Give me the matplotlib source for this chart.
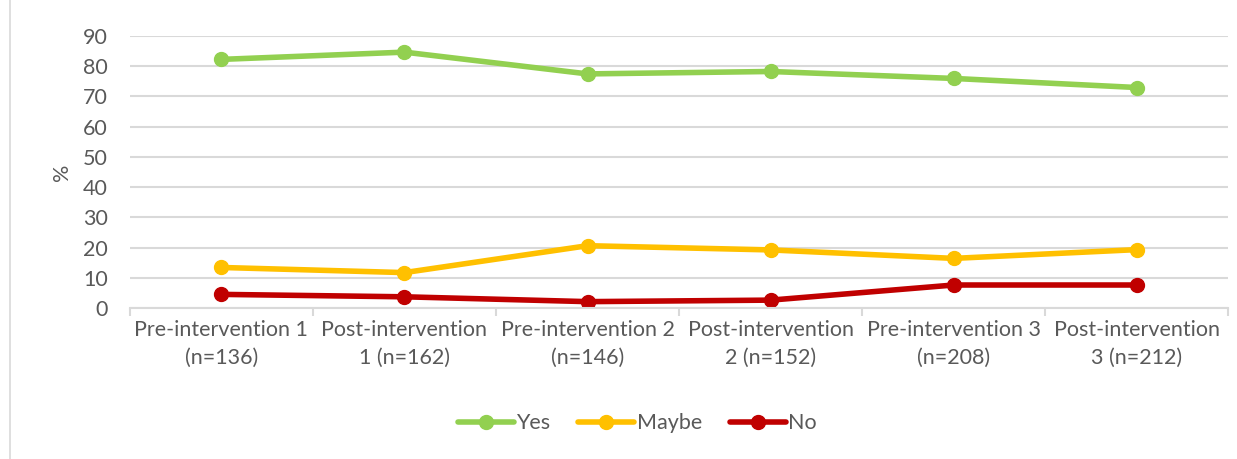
import numpy as np
import matplotlib.pyplot as plt
from matplotlib.patches import Rectangle

plt.rcParams['font.family'] = ['Lato', 'DejaVu Sans']

categories = ['Pre-intervention 1\n(n=136)', 'Post-intervention\n1 (n=162)',
              'Pre-intervention 2\n(n=146)', 'Post-intervention\n2 (n=152)',
              'Pre-intervention 3\n(n=208)', 'Post-intervention\n3 (n=212)']
yes = [82.2, 84.6, 77.4, 78.2, 75.9, 72.9]
maybe = [13.4, 11.7, 20.6, 19.2, 16.4, 19.3]
no = [4.5, 3.7, 2.1, 2.6, 7.6, 7.6]

series = [('Yes', yes, '#92d050'), ('Maybe', maybe, '#ffc000'), ('No', no, '#c00000')]
txt = '#595959'
grid = '#d9d9d9'
fs = 15.5

fig = plt.figure(figsize=(12.37, 4.59), dpi=100)
fig.patches.append(Rectangle((0.008, -0.01), 1.0, 1.02, transform=fig.transFigure,
                             fill=False, edgecolor=grid, lw=1.2))
ax = fig.add_axes([0.105, 0.329, 0.888, 0.593])

x = np.arange(len(categories))
for name, vals, col in series:
    ax.plot(x, vals, color=col, lw=4, marker='o', ms=10, label=name,
            solid_capstyle='round')

ax.set_xlim(-0.5, len(categories) - 0.5)
ax.set_ylim(0, 90)
ax.set_yticks(range(0, 91, 10))
ax.yaxis.grid(True, color=grid, lw=1.5)
ax.set_axisbelow(True)
for s in ['top', 'right', 'left']:
    ax.spines[s].set_visible(False)
ax.spines['bottom'].set_color(grid)
ax.spines['bottom'].set_linewidth(1.5)

ax.set_xticks(x)
ax.set_xticklabels(categories, linespacing=1.45)
ax.set_xticks(np.arange(-0.5, len(categories)), minor=True)
ax.tick_params(axis='x', which='major', length=0, pad=9, labelsize=fs, labelcolor=txt)
ax.tick_params(axis='x', which='minor', length=6, color=grid, width=1.5)
ax.tick_params(axis='y', length=0, pad=16, labelsize=fs, labelcolor=txt)
ax.set_ylabel('%', fontsize=fs, color=txt, labelpad=8)

ax.legend(loc='upper center', bbox_to_anchor=(0.462, -0.315), ncol=3, frameon=False,
          fontsize=fs, labelcolor=txt, handlelength=2.6, columnspacing=1.3,
          handletextpad=0.1)

fig.savefig('out.png', dpi=100)
